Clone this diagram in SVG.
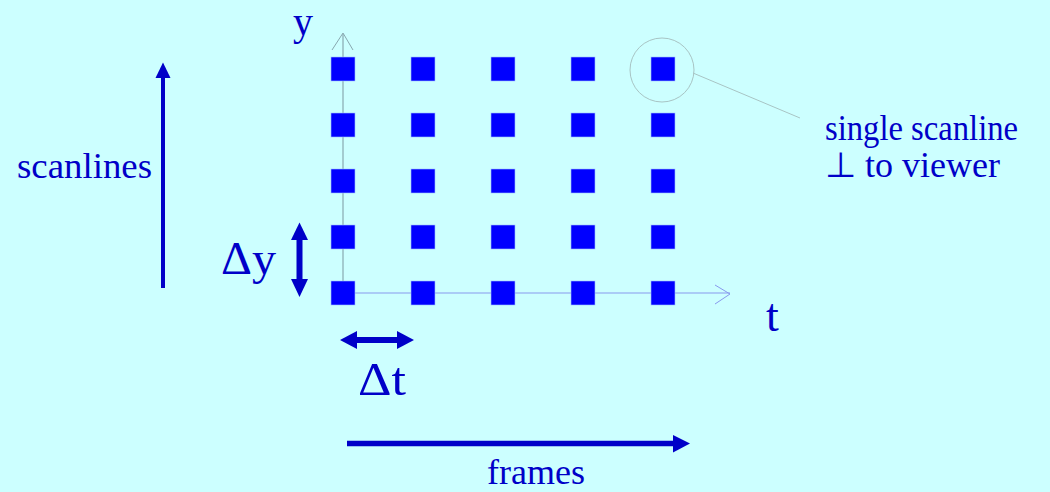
<svg xmlns="http://www.w3.org/2000/svg" width="1050" height="492" viewBox="0 0 1050 492">
<style>
.lbl{font-family:"Liberation Serif","Times New Roman",serif;fill:#0000c8;font-size:35px}
.big{font-family:"Liberation Serif","Times New Roman",serif;fill:#0000c8;font-size:46px}
.sq{fill:#0000ff;stroke:#9fbfff;stroke-width:0.6}
.arr{stroke:#0000c8;fill:none}
.head{fill:#0000c8}
</style>
<rect width="1050" height="492" fill="#ccffff"/>
<g id="axes">
  <line x1="343" y1="293" x2="343" y2="34" stroke="#88a8b0" stroke-width="1.2"/>
  <polyline points="332,50 343,33 353,50" fill="none" stroke="#88a8b0" stroke-width="1"/>
  <line x1="343" y1="293" x2="730" y2="293" stroke="#8899ee" stroke-width="1.2"/>
  <polyline points="715,285 730,294 715,304" fill="none" stroke="#8899ee" stroke-width="1"/>
</g>
<g id="samples">
  <rect class="sq" x="331" y="57" width="24" height="24"/>
  <rect class="sq" x="411" y="57" width="24" height="24"/>
  <rect class="sq" x="491" y="57" width="24" height="24"/>
  <rect class="sq" x="571" y="57" width="24" height="24"/>
  <rect class="sq" x="651" y="57" width="24" height="24"/>
  <rect class="sq" x="331" y="113" width="24" height="24"/>
  <rect class="sq" x="411" y="113" width="24" height="24"/>
  <rect class="sq" x="491" y="113" width="24" height="24"/>
  <rect class="sq" x="571" y="113" width="24" height="24"/>
  <rect class="sq" x="651" y="113" width="24" height="24"/>
  <rect class="sq" x="331" y="169" width="24" height="24"/>
  <rect class="sq" x="411" y="169" width="24" height="24"/>
  <rect class="sq" x="491" y="169" width="24" height="24"/>
  <rect class="sq" x="571" y="169" width="24" height="24"/>
  <rect class="sq" x="651" y="169" width="24" height="24"/>
  <rect class="sq" x="331" y="225" width="24" height="24"/>
  <rect class="sq" x="411" y="225" width="24" height="24"/>
  <rect class="sq" x="491" y="225" width="24" height="24"/>
  <rect class="sq" x="571" y="225" width="24" height="24"/>
  <rect class="sq" x="651" y="225" width="24" height="24"/>
  <rect class="sq" x="331" y="281" width="24" height="24"/>
  <rect class="sq" x="411" y="281" width="24" height="24"/>
  <rect class="sq" x="491" y="281" width="24" height="24"/>
  <rect class="sq" x="571" y="281" width="24" height="24"/>
  <rect class="sq" x="651" y="281" width="24" height="24"/>
</g>
<g id="callout">
  <circle cx="662" cy="70" r="32" fill="none" stroke="#a8c4c4" stroke-width="1"/>
  <line x1="693" y1="73" x2="800" y2="118" stroke="#a8c4c4" stroke-width="1"/>
</g>
<g id="connectors">
  <line class="arr" x1="163" y1="288" x2="163" y2="76" stroke-width="4"/>
  <polygon class="head" points="155.5,78 163,62.5 170.5,78"/>
  <line class="arr" x1="347" y1="443.5" x2="676" y2="443.5" stroke-width="5.5"/>
  <polygon class="head" points="673,435 690,443.5 673,452.5"/>
  <line class="arr" x1="299.5" y1="238" x2="299.5" y2="281" stroke-width="6"/>
  <polygon class="head" points="291,240 299.5,222.5 308,240"/>
  <polygon class="head" points="291,279 299.5,297 308,279"/>
  <line class="arr" x1="355" y1="340" x2="399" y2="340" stroke-width="6"/>
  <polygon class="head" points="357,331 340,340 357,349"/>
  <polygon class="head" points="397,331 414,340 397,349"/>
</g>
<g id="labels">
  <text class="big" x="293" y="35" style="font-size:40px">y</text>
  <text class="big" x="766" y="331">t</text>
  <text class="big" x="221" y="274" textLength="55" lengthAdjust="spacingAndGlyphs">Δy</text>
  <text class="big" x="358" y="395" textLength="48" lengthAdjust="spacingAndGlyphs">Δt</text>
  <text class="lbl" x="17" y="178" textLength="135" lengthAdjust="spacingAndGlyphs">scanlines</text>
  <text class="lbl" x="487" y="484" textLength="98" lengthAdjust="spacingAndGlyphs">frames</text>
  <text class="lbl" x="825" y="140" textLength="193" lengthAdjust="spacingAndGlyphs">single scanline</text>
  <text class="lbl" x="825" y="177" textLength="175" lengthAdjust="spacingAndGlyphs">⊥ to viewer</text>
</g>
</svg>
